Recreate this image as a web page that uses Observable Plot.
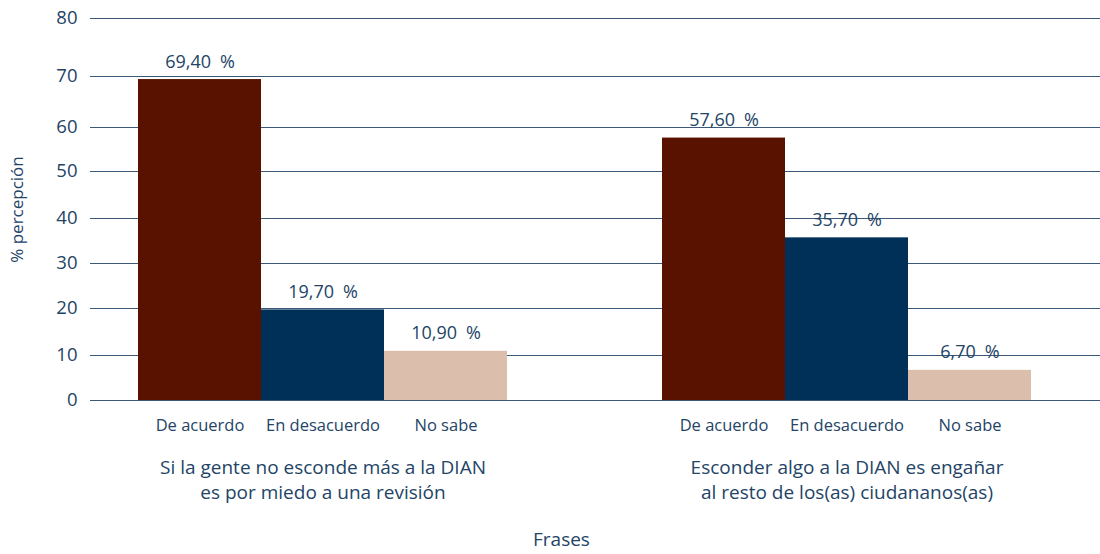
<!DOCTYPE html>
<html>
<head>
<meta charset="utf-8">
<script src="https://cdn.jsdelivr.net/npm/d3@7"></script>
<script src="https://cdn.jsdelivr.net/npm/@observablehq/plot@0.6"></script>
<style>
  html, body { margin: 0; padding: 0; background: #fff; }
  #caption { font-family: "Open Sans", sans-serif; font-size: 19px; color: #234466; width: 1100px; padding-left: 533px; box-sizing: border-box; height: 29px; line-height: 29px; }
  #chart g[aria-label^="y-axis"] { font-size: 18.5px; }
  #chart g[aria-label="y-axis label"] { font-size: 17px; }
</style>
</head>
<body>
<div id="chart"></div>
<div id="caption">Frases</div>
<script>
const groups = [
  "Si la gente no esconde más a la DIAN\nes por miedo a una revisión",
  "Esconder algo a la DIAN es engañar\nal resto de los(as) ciudananos(as)"
];
const categories = ["De acuerdo", "En desacuerdo", "No sabe"];
const group1Values = [69.4, 19.7, 10.9];
const group2Values = [57.6, 35.7, 6.7];
const yTicks = [0, 10, 20, 30, 40, 50, 60, 70, 80];
const colors = ["#5a1200", "#003057", "#dbbeac"];

const rows = [];
[group1Values, group2Values].forEach((vals, gi) => {
  vals.forEach((v, ci) => rows.push({group: groups[gi], category: categories[ci], value: v}));
});

const fmt = v => d3.format(".2f")(v).replace(".", ",") + "\u2002%";
const textColor = "#234466";

const chart = Plot.plot({
  width: 1100,
  height: 525,
  marginLeft: 90,
  marginRight: 0,
  marginTop: 18,
  marginBottom: 125,
  style: {fontFamily: "Open Sans, sans-serif", fontSize: "16.5px", color: textColor, background: "#fff"},
  facet: {data: rows, x: "group"},
  fx: {domain: groups, range: [90, 1138], padding: 0, axis: null},
  x: {domain: categories, paddingInner: 0, paddingOuter: 0.62, align: 0.31, tickSize: 0, tickPadding: 19, label: null},
  y: {
    type: "linear",
    domain: yTicks,
    range: [400, 355, 308, 263, 218, 171, 127, 76, 18],
    ticks: yTicks,
    tickSize: 0,
    tickPadding: 13,
    label: "% percepción",
    labelArrow: "none",
    labelAnchor: "center",
    labelOffset: 80
  },
  color: {domain: categories, range: colors},
  marks: [
    Plot.ruleY(yTicks, {stroke: "#3b5878", strokeWidth: 1}),
    Plot.barY(rows, {x: "category", y: "value", fill: "category"}),
    Plot.text(rows, {x: "category", y: "value", text: d => fmt(d.value), dy: -12, lineAnchor: "bottom", fill: textColor, fontSize: 18}),
    Plot.text(rows, {filter: d => d.category === "En desacuerdo", x: "category", frameAnchor: "bottom", text: "group", lineAnchor: "top", dy: 55, lineHeight: 1.35, fill: textColor, fontSize: 19})
  ]
});
document.getElementById("chart").appendChild(chart);
</script>
</body>
</html>
